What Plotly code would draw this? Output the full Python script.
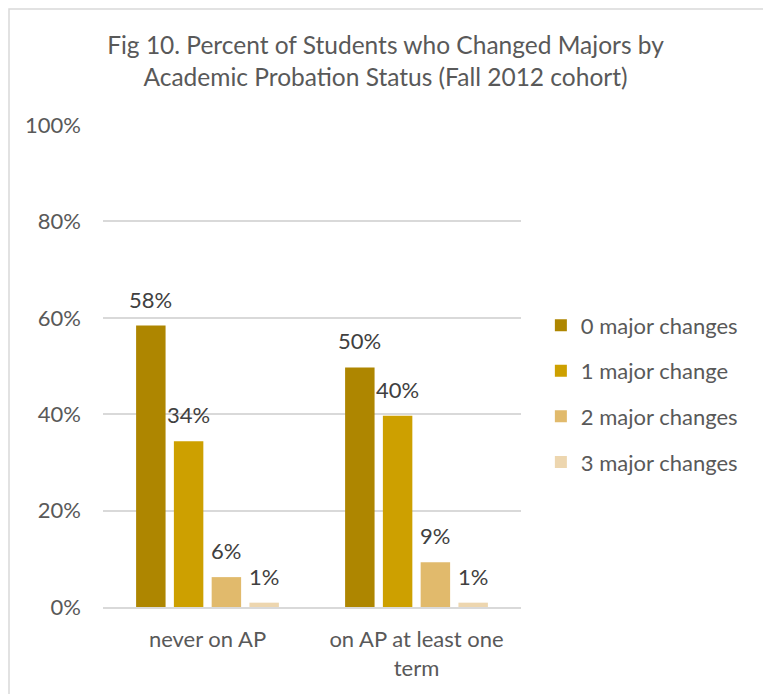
import plotly.graph_objects as go

categories = ["never on AP", "on AP at least one<br>term"]
series_names = ["0 major changes", "1 major change", "2 major changes", "3 major changes"]
zero_changes = [58.4, 49.7]
one_change = [34.4, 39.7]
two_changes = [6.2, 9.3]
three_changes = [0.9, 0.9]
colors = ["#AE8600", "#CDA000", "#E1BA6C", "#EDD6AF"]
y_ticks = [0, 20, 40, 60, 80, 100]
y_tick_text = ["0%", "20%", "40%", "60%", "80%", "100%"]

FONT = "Lato"
GREY = "#595959"

# the page body adds an 8px margin, so the figure is 8px smaller than the window
W, H = 763, 686
L, R, T, B = 95, 250, 117, 87
plot_w = W - L - R
plot_h = H - T - B
slot = 37.8  # px between neighbouring bars of a group

all_series = [zero_changes, one_change, two_changes, three_changes]

fig = go.Figure()
for i, (name, vals) in enumerate(zip(series_names, all_series)):
    fig.add_trace(go.Bar(
        x=categories, y=vals, name=name,
        marker=dict(color=colors[i], line=dict(width=0)),
        legendgroup=name,
    ))
    for cat, v in zip(categories, vals):
        fig.add_annotation(
            x=cat, y=v, text="{:.0f}%".format(v), showarrow=False,
            xanchor="center", yanchor="bottom",
            xshift=(i - 1.5) * slot, yshift=11,
            font=dict(family=FONT, size=22, color="#404040"),
        )

fig.update_layout(
    width=W, height=H,
    margin=dict(l=L, r=R, t=T, b=B),
    paper_bgcolor="white", plot_bgcolor="white",
    font=dict(family=FONT, size=22, color=GREY),
    title=dict(
        text="Fig 10. Percent of Students who Changed Majors by<br>Academic Probation Status (Fall 2012 cohort)",
        x=0.5 - 4 / W, xanchor="center", y=1 - 46 / H, yanchor="top",
        font=dict(family=FONT, size=24.5, color=GREY),
    ),
    barmode="group", bargap=0.277, bargroupgap=0.22,
    legend=dict(
        x=1.026 + 9 / plot_w, xanchor="left", y=0.63 - 1 / plot_h, yanchor="top",
        font=dict(family=FONT, size=22, color=GREY),
        tracegroupgap=14, bgcolor="rgba(0,0,0,0)",
    ),
    showlegend=True,
)

fig.update_yaxes(
    range=[0, 100], tickvals=y_ticks, ticktext=y_tick_text,
    showgrid=True, gridcolor="#D9D9D9", gridwidth=1.5,
    zeroline=False, showline=False, ticks="", ticklabelstandoff=21,
)
fig.update_xaxes(
    showline=True, linecolor="#D9D9D9", linewidth=1.5,
    ticks="", ticklabelstandoff=12, showgrid=False,
)

# light chart frame
fig.add_shape(type="rect", xref="paper", yref="paper",
              x0=(1 - L) / plot_w, x1=(758 - L) / plot_w,
              y0=-(B + 20) / plot_h, y1=(plot_h + T - 1) / plot_h,
              line=dict(color="#D9D9D9", width=1.5), fillcolor="rgba(0,0,0,0)",
              layer="below")

fig.write_html("out.html")
